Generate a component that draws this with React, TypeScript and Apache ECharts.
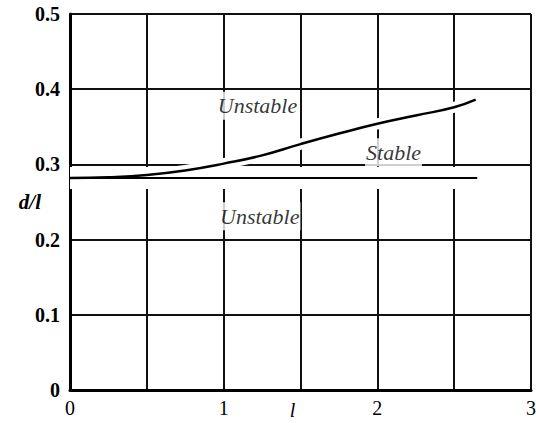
import React, { useEffect, useRef } from "react";
import * as echarts from "echarts";

// Boundary curve between stable and unstable regions
const curveL = [0, 0.25, 0.5, 0.75, 1.0, 1.25, 1.5, 1.75, 2.0, 2.25, 2.5, 2.64];
const curveD = [0.282, 0.283, 0.286, 0.292, 0.301, 0.312, 0.327, 0.341, 0.354, 0.365, 0.376, 0.386];

// Lower (flat) boundary
const flatL = [0, 2.65];
const flatD = [0.282, 0.282];

// Region labels: [l, d/l, text]
const regionLabels: [number, number, string][] = [
  [0.955, 0.378, "Unstable"],
  [1.92, 0.316, "Stable"],
  [0.97, 0.231, "Unstable"],
];

const xTicks = [0, 1, 2, 3];
const yTicks = [0, 0.1, 0.2, 0.3, 0.4, 0.5];

const FONT = "'Liberation Serif', serif";
const INK = "#000";

export default function App() {
  const ref = useRef<HTMLDivElement>(null);
  useEffect(() => {
    if (!ref.current) return;
    const chart = echarts.init(ref.current, null, { renderer: "svg" });
    const curve = curveL.map((l, i) => [l, curveD[i]]);
    const flat = flatL.map((l, i) => [l, flatD[i]]);
    chart.setOption({
      animation: false,
      backgroundColor: "#fff",
      textStyle: { fontFamily: FONT },
      grid: { left: 70, right: 5, top: 14, bottom: 33, outerBoundsMode: "none", containLabel: false },
      xAxis: {
        type: "value",
        min: 0,
        max: 3,
        interval: 0.5,
        name: "l",
        nameLocation: "middle",
        nameGap: 10,
        nameMoveOverlap: false,
        nameTextStyle: {
          fontFamily: FONT,
          fontStyle: "italic",
          fontSize: 20,
          color: INK,
          padding: [0, 16, 0, 0],
        },
        axisLine: { show: true, lineStyle: { color: INK, width: 3 } },
        axisTick: { show: false },
        axisLabel: {
          margin: 8,
          fontFamily: FONT,
          fontSize: 20,
          color: INK,
          formatter: (v: number) => (xTicks.includes(v) ? String(v) : ""),
        },
        splitLine: { show: true, lineStyle: { color: "#111", width: 2 } },
      },
      yAxis: {
        type: "value",
        min: 0,
        max: 0.5,
        interval: 0.1,
        name: "d/l",
        nameLocation: "middle",
        nameRotate: 0,
        nameGap: 29,
        nameMoveOverlap: false,
        nameTextStyle: {
          fontFamily: FONT,
          fontStyle: "italic",
          fontWeight: "bold",
          fontSize: 21,
          color: INK,
        },
        axisLine: { show: true, lineStyle: { color: INK, width: 3 } },
        axisTick: { show: false },
        axisLabel: {
          margin: 10,
          fontFamily: FONT,
          fontWeight: "bold",
          fontSize: 20,
          color: INK,
          formatter: (v: number) => {
            const t = yTicks.find((y) => Math.abs(y - v) < 1e-9);
            return t === undefined ? "" : t === 0 ? "0" : t.toFixed(1);
          },
        },
        splitLine: { show: true, lineStyle: { color: "#111", width: 2 } },
      },
      series: [
        {
          type: "line",
          data: curve,
          smooth: true,
          symbol: "none",
          z: 2,
          lineStyle: { color: "#fff", width: 11 },
          silent: true,
        },
        {
          type: "line",
          data: flat,
          symbol: "none",
          z: 2,
          lineStyle: { color: "#fff", width: 22, cap: "butt" },
          silent: true,
        },
        {
          type: "line",
          data: curve,
          smooth: true,
          symbol: "none",
          z: 3,
          lineStyle: { color: INK, width: 2.5 },
        },
        {
          type: "line",
          data: flat,
          symbol: "none",
          z: 3,
          lineStyle: { color: INK, width: 2 },
        },
        {
          type: "scatter",
          z: 4,
          symbolSize: 0,
          data: regionLabels.map((r) => [r[0], r[1], r[2]]),
          label: {
            show: true,
            position: "right",
            distance: 0,
            formatter: (p: any) => p.data[2],
            fontFamily: FONT,
            fontStyle: "italic",
            fontSize: 22,
            color: INK,
            backgroundColor: "#fff",
            padding: [3, 1, 3, 1],
          },
        },
      ],
    });
    return () => chart.dispose();
  }, []);
  return (
    <div
      ref={ref}
      style={{ position: "fixed", left: 0, top: 0, width: 536, height: 423 }}
    />
  );
}
